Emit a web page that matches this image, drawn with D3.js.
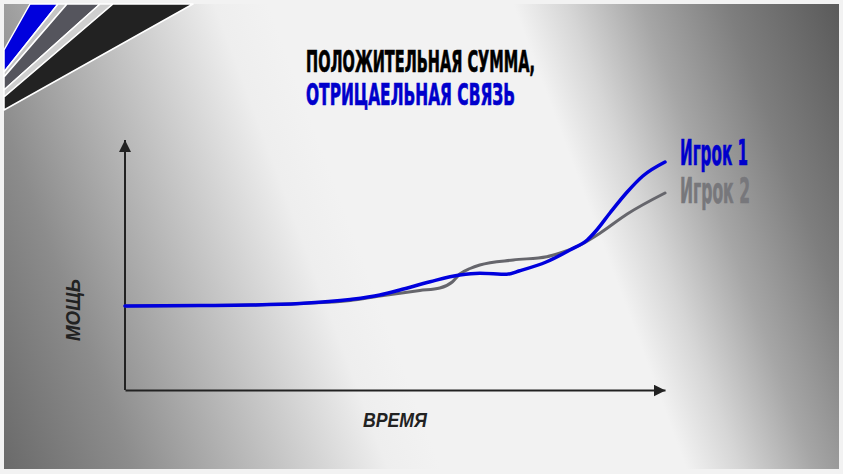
<!DOCTYPE html>
<html>
<head>
<meta charset="utf-8">
<script src="https://cdn.jsdelivr.net/npm/d3@7"></script>
<style>
  body { margin: 0; background: #f2f2f2; }
  svg { display: block; }
</style>
</head>
<body>
<div id="chart"></div>
<script>
// Time axis (0..100) and power values
var player1Time  = [0, 13.9, 23.1, 32.4, 41.7, 47.2, 50.9, 56.5, 62.0, 65.7, 70.7, 73.1, 78.1, 82.4, 85.6, 87.2, 89.8, 93.0, 95.9, 100];
var player1Power = [33.6, 33.8, 34.0, 34.6, 36.2, 38.0, 40.0, 43.3, 46.0, 46.7, 46.3, 47.7, 51.3, 56.0, 60.0, 63.6, 70.8, 79.2, 85.6, 91.2];

var player2Time  = [0, 13.9, 23.1, 32.4, 41.7, 47.2, 54.6, 58.3, 60.6, 62.0, 63.9, 65.7, 71.9, 78.1, 80.6, 84.3, 88.0, 93.0, 100];
var player2Power = [33.6, 33.8, 34.0, 34.6, 35.8, 37.6, 39.8, 40.8, 43.2, 46.4, 48.6, 50.0, 52.0, 53.3, 54.8, 58.0, 62.8, 70.4, 78.8];

var seriesNames = ["Игрок 1", "Игрок 2"];
var titleLines = ["ПОЛОЖИТЕЛЬНАЯ СУММА,", "ОТРИЦАЕЛЬНАЯ СВЯЗЬ"];
var xLabel = "ВРЕМЯ";
var yLabel = "МОЩЬ";

function init() {
    var w = 843, h = 474;

    var svg = d3.select("#chart")
        .append("svg")
        .attr("width", w)
        .attr("height", h);

    var defs = svg.append("defs");

    // tilted grey background: dark left, light band, dark right
    var grad = defs.append("linearGradient")
        .attr("id", "bg")
        .attr("gradientUnits", "userSpaceOnUse")
        .attr("x1", -150).attr("y1", 56)
        .attr("x2", 735).attr("y2", -274);
    [[0, "#6a6a6a"], [0.127, "#8c8c8c"], [0.381, "#eeeeee"], [0.434, "#f2f2f2"],
     [0.677, "#f2f2f2"], [0.73, "#d6d6d6"], [0.804, "#a6a6a6"], [0.889, "#7e7e7e"], [1, "#5a5a5a"]].forEach(function (s) {
        grad.append("stop").attr("offset", s[0]).attr("stop-color", s[1]);
    });

    svg.append("rect")
        .attr("x", 4).attr("y", 4)
        .attr("width", 835).attr("height", 465)
        .attr("fill", "url(#bg)");

    // decorative stripes in the top-left corner
    var stripes = [
        { pts: [[30, 4], [58, 4], [4, 72], [4, 50]], fill: "#0000dd" },
        { pts: [[58, 4], [67, 4], [4, 77], [4, 72]], fill: "#c4c4c4" },
        { pts: [[67, 4], [100, 4], [4, 90], [4, 77]], fill: "#55555d" },
        { pts: [[100, 4], [113, 4], [4, 97], [4, 90]], fill: "#cfcfcf" },
        { pts: [[113, 4], [193, 4], [4, 110], [4, 97]], fill: "#222222" }
    ];
    svg.append("g").selectAll("polygon")
        .data(stripes)
        .enter()
        .append("polygon")
        .attr("points", function (d) { return d.pts.join(" "); })
        .attr("fill", function (d) { return d.fill; })
        .attr("stroke", "#ffffff")
        .attr("stroke-width", 1.5)
        .attr("stroke-linejoin", "round");

    // title
    var title = svg.append("g")
        .style("font-family", "'Liberation Sans Narrow', 'DejaVu Sans Condensed', sans-serif")
        .style("font-weight", "bold")
        .style("font-size", "31px")
        .attr("stroke-width", 0.7);
    title.append("text")
        .attr("x", 306).attr("y", 72)
        .attr("textLength", 229)
        .attr("lengthAdjust", "spacingAndGlyphs")
        .attr("fill", "#000000")
        .attr("stroke", "#000000")
        .text(titleLines[0]);
    title.append("text")
        .attr("x", 306).attr("y", 105)
        .attr("textLength", 209)
        .attr("lengthAdjust", "spacingAndGlyphs")
        .attr("fill", "#0000cc")
        .attr("stroke", "#0000cc")
        .text(titleLines[1]);

    // scales
    var x = d3.scaleLinear().domain([0, 100]).range([125, 665]);
    var y = d3.scaleLinear().domain([0, 100]).range([390, 140]);

    // arrow head
    defs.append("marker")
        .attr("id", "arrow")
        .attr("viewBox", "0 0 12 12")
        .attr("refX", 12).attr("refY", 6)
        .attr("markerWidth", 12).attr("markerHeight", 12)
        .attr("markerUnits", "userSpaceOnUse")
        .attr("orient", "auto")
        .append("path")
        .attr("d", "M0,0L12,6L0,12Z")
        .attr("fill", "#222");

    // axes without ticks
    var xAxis = svg.append("g")
        .attr("transform", "translate(0," + y(0) + ")")
        .call(d3.axisBottom(x).ticks(0).tickSizeOuter(0));
    var yAxis = svg.append("g")
        .attr("transform", "translate(" + x(0) + ",0)")
        .call(d3.axisLeft(y).ticks(0).tickSizeOuter(0));
    xAxis.select(".domain")
        .attr("stroke", "#222").attr("stroke-width", 2)
        .attr("marker-end", "url(#arrow)");
    // redraw the y domain upward so the arrow sits at the top
    yAxis.select(".domain")
        .attr("d", "M0," + y(0) + "V" + y(100))
        .attr("stroke", "#222").attr("stroke-width", 2)
        .attr("marker-end", "url(#arrow)");

    // axis labels
    svg.append("text")
        .attr("x", 395).attr("y", 427)
        .attr("text-anchor", "middle")
        .style("font-family", "'Liberation Sans', sans-serif")
        .style("font-weight", "bold")
        .style("font-style", "italic")
        .style("font-size", "20px")
        .attr("textLength", 64)
        .attr("lengthAdjust", "spacingAndGlyphs")
        .attr("fill", "#222")
        .text(xLabel);
    svg.append("text")
        .attr("transform", "translate(80,310) rotate(-90)")
        .attr("text-anchor", "middle")
        .style("font-family", "'Liberation Sans', sans-serif")
        .style("font-weight", "bold")
        .style("font-style", "italic")
        .style("font-size", "20px")
        .attr("textLength", 62)
        .attr("lengthAdjust", "spacingAndGlyphs")
        .attr("fill", "#222")
        .text(yLabel);

    // lines
    var line = d3.line()
        .x(function (d) { return x(d[0]); })
        .y(function (d) { return y(d[1]); })
        .curve(d3.curveMonotoneX);

    var p1 = d3.zip(player1Time, player1Power);
    var p2 = d3.zip(player2Time, player2Power);

    svg.append("path")
        .datum(p2)
        .attr("d", line)
        .attr("fill", "none")
        .attr("stroke", "#66666c")
        .attr("stroke-width", 3)
        .attr("stroke-linecap", "round");

    svg.append("path")
        .datum(p1)
        .attr("d", line)
        .attr("fill", "none")
        .attr("stroke", "#0000dd")
        .attr("stroke-width", 3.5)
        .attr("stroke-linecap", "round");

    // series labels
    var legend = svg.append("g")
        .style("font-family", "'Liberation Sans Narrow', 'DejaVu Sans Condensed', sans-serif")
        .style("font-weight", "bold")
        .style("font-size", "36px")
        .attr("stroke-width", 0.6);
    legend.append("text")
        .attr("x", 680).attr("y", 165)
        .attr("textLength", 68)
        .attr("lengthAdjust", "spacingAndGlyphs")
        .attr("fill", "#0000cc")
        .attr("stroke", "#0000cc")
        .text(seriesNames[0]);
    legend.append("text")
        .attr("x", 680).attr("y", 203)
        .attr("textLength", 70)
        .attr("lengthAdjust", "spacingAndGlyphs")
        .attr("fill", "#77777b")
        .attr("stroke", "#77777b")
        .text(seriesNames[1]);
}
window.onload = init;
</script>
</body>
</html>
